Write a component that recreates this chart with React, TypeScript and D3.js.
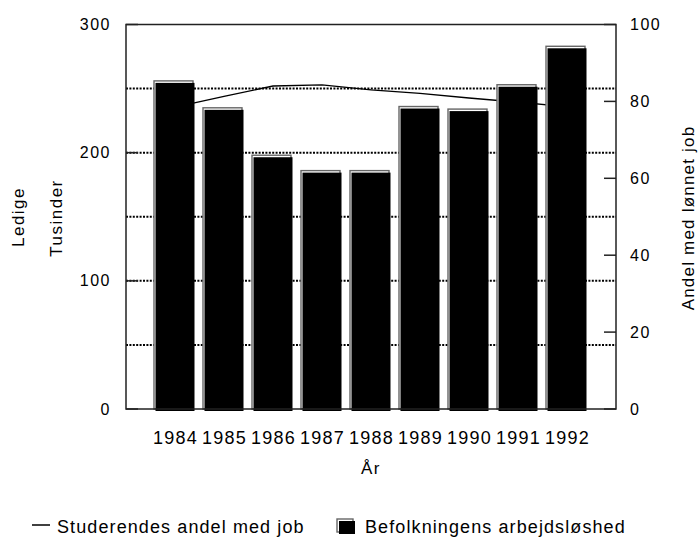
import React from "react";
import * as d3 from "d3";

const years = ["1984", "1985", "1986", "1987", "1988", "1989", "1990", "1991", "1992"];
const unemployment = [256, 235, 198, 186, 186, 236, 234, 253, 283];
const studentJobShare = [78.5, 81.3, 84.0, 84.3, 83.0, 82.1, 80.9, 79.8, 78.6];
const leftTicks = [0, 100, 200, 300];
const gridValues = [50, 100, 150, 200, 250];
const rightTicks = [0, 20, 40, 60, 80, 100];

const W = 700;
const H = 538;
const L = 126;
const R = 616;
const T = 24.5;
const B = 409;
const FONT = "'Liberation Sans', Arial, sans-serif";

export default function App() {
  const x = d3.scaleLinear().domain([0, years.length + 1]).range([L, R]);
  const yL = d3.scaleLinear().domain([0, 300]).range([B, T]);
  const yR = d3.scaleLinear().domain([0, 100]).range([B, T]);
  const bw = 39;
  const line = d3
    .line<number>()
    .x((_, i) => x(i + 1))
    .y((d) => yR(d));

  return (
    <svg width={W} height={H} style={{ position: "absolute", left: 0, top: 0, background: "#fff" }} fontFamily={FONT}>
      {/* grid */}
      {gridValues.map((g) => (
        <line key={g} x1={L} x2={R} y1={yL(g)} y2={yL(g)} stroke="#000" strokeWidth={2} strokeDasharray="2 1.4" />
      ))}
      {/* line series (behind bars) */}
      <path d={line(studentJobShare) || ""} fill="none" stroke="#000" strokeWidth={1.4} />
      {/* bars */}
      {unemployment.map((v, i) => {
        const cx = x(i + 1);
        const y = yL(v);
        return (
          <g key={years[i]}>
            <rect x={cx - 21} y={y} width={bw} height={B - y} fill="#fff" stroke="#666" strokeWidth={1.4} />
            <rect x={cx - 19.5} y={y + 2} width={bw} height={B - y} fill="#000" />
          </g>
        );
      })}
      {/* frame */}
      <rect x={L} y={T} width={R - L} height={B - T} fill="none" stroke="#222" strokeWidth={1.5} />
      {/* ticks */}
      {leftTicks.map((t) => (
        <g key={"l" + t}>
          <line x1={L} x2={L + 12} y1={yL(t)} y2={yL(t)} stroke="#222" strokeWidth={1.5} />
          <text x={111} y={yL(t) + 5.5} textAnchor="end" fontSize={16} letterSpacing={1.5}>
            {t}
          </text>
        </g>
      ))}
      {rightTicks.map((t) => (
        <g key={"r" + t}>
          <line x1={R - 12} x2={R} y1={yR(t)} y2={yR(t)} stroke="#222" strokeWidth={1.5} />
          <text x={630} y={yR(t) + 5.5} textAnchor="start" fontSize={16} letterSpacing={1.5}>
            {t}
          </text>
        </g>
      ))}
      {years.map((yr, i) => (
        <text key={"x" + yr} x={x(i + 1) + 0.5} y={444} textAnchor="middle" fontSize={18} letterSpacing={1.2}>
          {yr}
        </text>
      ))}
      {/* axis titles */}
      <text x={371} y={474} textAnchor="middle" fontSize={17} letterSpacing={1.5}>
        År
      </text>
      <text transform="translate(23.5,217) rotate(-90)" textAnchor="middle" fontSize={17} letterSpacing={1.5}>
        Ledige
      </text>
      <text transform="translate(62,218) rotate(-90)" textAnchor="middle" fontSize={17} letterSpacing={1.5}>
        Tusinder
      </text>
      <text transform="translate(694,218) rotate(-90)" textAnchor="middle" fontSize={17} letterSpacing={1.2}>
        Andel med lønnet job
      </text>
      {/* legend */}
      <line x1={32} x2={50} y1={525} y2={525} stroke="#000" strokeWidth={1.5} />
      <text x={57} y={533} fontSize={18} letterSpacing={1.1}>
        Studerendes andel med job
      </text>
      <rect x={337} y={519} width={16} height={13} fill="#fff" stroke="#666" strokeWidth={1.4} />
      <rect x={339} y={521} width={16} height={13} fill="#000" />
      <text x={365} y={533} fontSize={18} letterSpacing={1.1}>
        Befolkningens arbejdsløshed
      </text>
    </svg>
  );
}
